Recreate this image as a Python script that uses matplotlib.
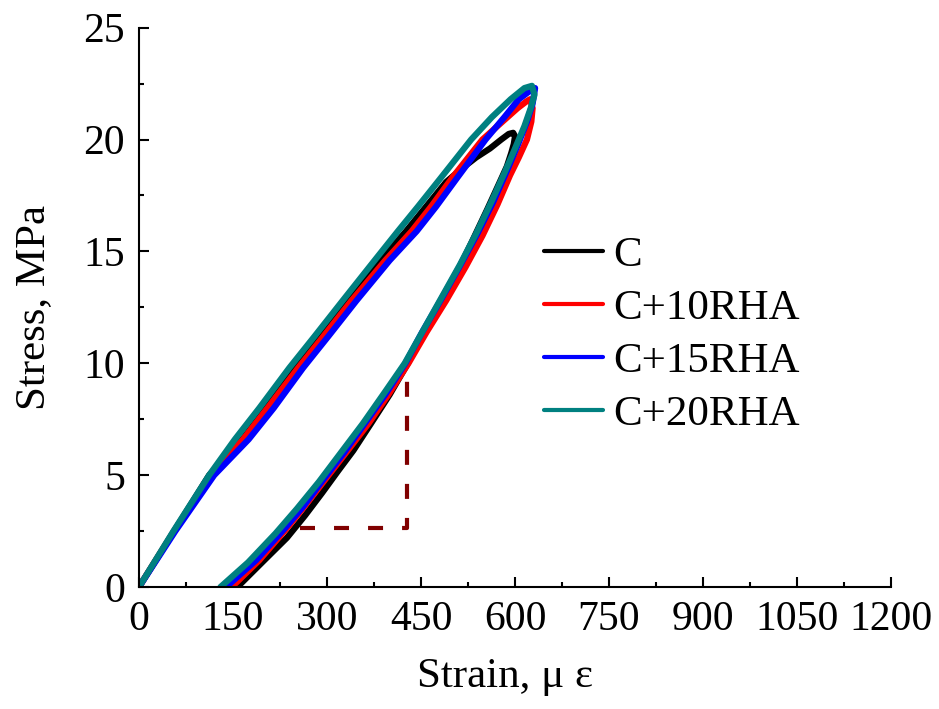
import matplotlib.pyplot as plt
from matplotlib.ticker import MultipleLocator

plt.rcParams['font.family'] = ['Liberation Serif', 'DejaVu Serif']
plt.rcParams['lines.scale_dashes'] = False

# stress-strain loops: loading branch up to the peak, then unloading branch
c_strain = [0, 56, 112, 165, 203, 250, 290, 333, 385, 426, 458, 490, 515, 538, 560, 578, 590, 597,
            600, 598, 594, 587, 574, 556, 534, 510, 482, 455, 429, 400, 370, 342, 318, 292, 265, 236, 200, 157]
c_stress = [0, 2.5, 5.0, 6.6, 8.0, 9.8, 11.2, 12.8, 14.6, 15.9, 17.0, 18.1, 18.7, 19.2, 19.6, 20.0, 20.25, 20.3,
            20.15, 19.8, 19.4, 18.8, 18.0, 16.9, 15.6, 14.2, 12.8, 11.4, 10.0, 8.6, 7.3, 6.1, 5.2, 4.2, 3.2, 2.2, 1.2, 0]

c10_strain = [0, 56, 114, 166, 205, 254, 294, 339, 393, 435, 466, 500, 548, 580, 604, 618, 624,
              628, 626, 619, 606, 592, 572, 548, 521, 490, 459, 430, 398, 366, 333, 297, 264, 235, 192, 148]
c10_stress = [0, 2.5, 5.0, 6.6, 8.0, 9.8, 11.2, 12.8, 14.6, 15.9, 17.0, 18.3, 20.0, 20.8, 21.4, 21.7, 21.8,
              21.4, 20.8, 20.0, 19.2, 18.4, 17.1, 15.7, 14.3, 12.8, 11.4, 10.0, 8.6, 7.3, 6.1, 4.8, 3.6, 2.6, 1.2, 0]

c15_strain = [0, 58, 120, 175, 215, 262, 302, 347, 400, 443, 474, 508, 553, 583, 606, 625, 632,
              628, 619, 605, 587, 565, 540, 513, 483, 452, 425, 393, 360, 327, 294, 262, 232, 187, 139]
c15_stress = [0, 2.5, 5.0, 6.6, 8.0, 9.8, 11.2, 12.8, 14.6, 15.9, 17.0, 18.3, 20.0, 21.0, 21.8, 22.2, 22.3,
              21.6, 20.8, 19.8, 18.6, 17.2, 15.8, 14.4, 12.9, 11.4, 10.0, 8.6, 7.3, 6.0, 4.8, 3.6, 2.6, 1.2, 0]

c20_strain = [0, 55, 112, 153, 192, 240, 280, 325, 376, 413, 445, 482, 530, 563, 593, 615, 627,
              631, 625, 615, 600, 583, 562, 538, 512, 482, 452, 424, 392, 357, 322, 287, 252, 218, 174, 130]
c20_stress = [0, 2.5, 5.0, 6.6, 8.0, 9.8, 11.2, 12.8, 14.6, 15.9, 17.0, 18.3, 20.0, 21.0, 21.8, 22.3, 22.4,
              22.0, 21.4, 20.6, 19.6, 18.5, 17.2, 15.8, 14.4, 12.9, 11.4, 10.0, 8.7, 7.3, 6.0, 4.7, 3.5, 2.4, 1.1, 0]

labels = ['C', 'C+10RHA', 'C+15RHA', 'C+20RHA']
colors = ['black', '#ff0000', '#0000ff', '#008080']

# dashed guide (strain, stress)
guide_strain = [257, 428, 428]
guide_stress = [2.63, 2.63, 9.9]

fig = plt.figure(figsize=(9.39, 7.09), dpi=100)
ax = fig.add_axes([0.148, 0.172, 0.801, 0.789])

series = [(c_strain, c_stress), (c10_strain, c10_stress), (c15_strain, c15_stress), (c20_strain, c20_stress)]
for (xs, ys), lab, col in zip(series, labels, colors):
    ax.plot(xs, ys, color=col, lw=4.5, label=lab, solid_joinstyle='round', solid_capstyle='round')

ax.plot(guide_strain, guide_stress, color='#800000', lw=3, dashes=(10.8, 13.7))

ax.set_xlim(0, 1200)
ax.set_ylim(0, 25)
ax.xaxis.set_major_locator(MultipleLocator(150))
ax.xaxis.set_minor_locator(MultipleLocator(75))
ax.yaxis.set_major_locator(MultipleLocator(5))
ax.yaxis.set_minor_locator(MultipleLocator(2.5))
for s in ['top', 'right']:
    ax.spines[s].set_visible(False)
for s in ['left', 'bottom']:
    ax.spines[s].set_linewidth(1.5)
ax.tick_params(which='both', direction='in', width=1.5, labelsize=30)
ax.tick_params(which='major', length=7, pad=10)
ax.tick_params(which='minor', length=3.5)

ax.set_xlabel('Strain, μ ε', fontsize=31)
ax.xaxis.set_label_coords(0.487, -0.126)
ax.xaxis.label.set_verticalalignment('top')
ax.set_ylabel('Stress, MPa', fontsize=31, labelpad=22)

leg = ax.legend(loc='center left', bbox_to_anchor=(544 / 939, 0.528), bbox_transform=fig.transFigure,
                frameon=False, fontsize=31, handlelength=1.37, handletextpad=0.23,
                labelspacing=0.32, borderpad=0, borderaxespad=0)
for h in leg.get_lines():
    h.set_linewidth(3)

fig.savefig('out.png', dpi=100)
